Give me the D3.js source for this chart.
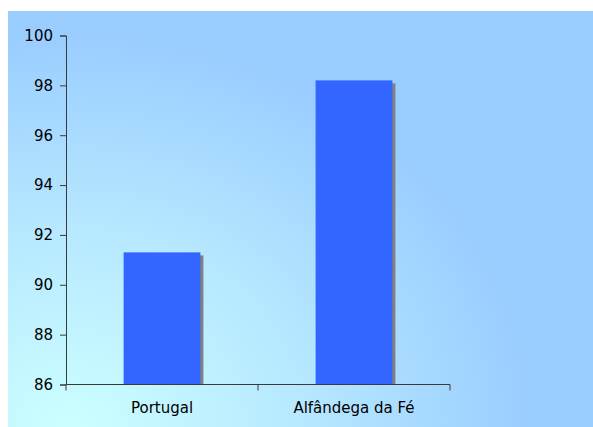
<!DOCTYPE html>
<html>
<head>
<meta charset="utf-8">
<script src="https://cdn.jsdelivr.net/npm/d3@7"></script>
<style>
  html, body { margin: 0; padding: 0; background: #ffffff; }
  svg { display: block; }
  text { font-family: "DejaVu Sans", Verdana, sans-serif; }
</style>
</head>
<body>
<svg id="chart" width="593" height="427"></svg>
<script>
// Chart data
const categories = ["Portugal", "Alfândega da Fé"];
const values = [91.3, 98.2];
const yTicks = [86, 88, 90, 92, 94, 96, 98, 100];

const W = 593, H = 427;
const svg = d3.select("#chart");

// Background panel with a soft elliptical gradient from the lower left
const defs = svg.append("defs");
const grad = defs.append("radialGradient")
  .attr("id", "bg")
  .attr("gradientUnits", "userSpaceOnUse")
  .attr("cx", 0).attr("cy", 0).attr("r", 1)
  .attr("gradientTransform", "translate(70,427) scale(470,400)");
grad.append("stop").attr("offset", "0%").attr("stop-color", "#ccffff");
grad.append("stop").attr("offset", "50%").attr("stop-color", "#b6e8ff");
grad.append("stop").attr("offset", "100%").attr("stop-color", "#99ccff");

svg.append("rect")
  .attr("x", 8).attr("y", 11)
  .attr("width", W - 8).attr("height", H - 11)
  .attr("fill", "url(#bg)");

// Plot area
const plot = { left: 66, right: 450, top: 35.5, bottom: 384.5 };

const x = d3.scaleBand()
  .domain(categories)
  .range([plot.left, plot.right])
  .paddingInner(0.6)
  .paddingOuter(0.3);

const y = d3.scaleLinear()
  .domain([86, 100])
  .range([plot.bottom, plot.top]);

// Bar shadows
const shadowOffset = 3;
svg.append("g").selectAll("rect")
  .data(values)
  .join("rect")
  .attr("x", (d, i) => x(categories[i]) + shadowOffset)
  .attr("y", d => y(d) + shadowOffset)
  .attr("width", x.bandwidth())
  .attr("height", d => y(86) - y(d) - shadowOffset)
  .attr("fill", "#808080");

// Bars
svg.append("g").selectAll("rect")
  .data(values)
  .join("rect")
  .attr("x", (d, i) => x(categories[i]))
  .attr("y", d => y(d))
  .attr("width", x.bandwidth())
  .attr("height", d => y(86) - y(d))
  .attr("fill", "#3366ff");

// Y axis
const yAxis = svg.append("g")
  .attr("transform", `translate(${plot.left},0)`)
  .call(d3.axisLeft(y).tickValues(yTicks).tickSize(6).tickPadding(7).tickFormat(d3.format("d")));
yAxis.select(".domain").attr("stroke", "#3a3a3a");
yAxis.selectAll(".tick line").attr("stroke", "#3a3a3a");
yAxis.selectAll(".tick text")
  .attr("fill", "#000")
  .style("font-size", "15px");

// X axis with ticks on category boundaries
const xAxis = svg.append("g")
  .attr("transform", `translate(0,${plot.bottom})`);
xAxis.append("line")
  .attr("x1", plot.left).attr("x2", plot.right)
  .attr("y1", 0).attr("y2", 0)
  .attr("stroke", "#3a3a3a");
const step = (plot.right - plot.left) / categories.length;
xAxis.selectAll("line.tk")
  .data(d3.range(categories.length + 1))
  .join("line")
  .attr("class", "tk")
  .attr("x1", i => plot.left + i * step)
  .attr("x2", i => plot.left + i * step)
  .attr("y1", 0).attr("y2", 6)
  .attr("stroke", "#3a3a3a");
xAxis.selectAll("text")
  .data(categories)
  .join("text")
  .attr("x", d => x(d) + x.bandwidth() / 2)
  .attr("y", 28)
  .attr("text-anchor", "middle")
  .attr("fill", "#000")
  .style("font-size", "15px")
  .text(d => d);
</script>
</body>
</html>
